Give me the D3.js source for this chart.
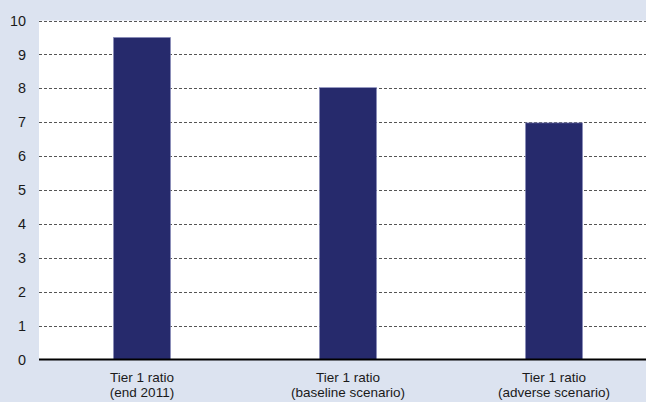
<!DOCTYPE html>
<html><head><meta charset="utf-8">
<script src="https://cdn.jsdelivr.net/npm/d3@7"></script>
<style>body{margin:0;background:#dce3f0;}svg{display:block;}</style>
</head><body>
<svg id="c" width="646" height="402"></svg>
<script>
const categories = ["Tier 1 ratio\n(end 2011)", "Tier 1 ratio\n(baseline scenario)", "Tier 1 ratio\n(adverse scenario)"];
const values = [9.5, 8.02, 6.98];
const yTicks = [0,1,2,3,4,5,6,7,8,9,10];

(function(){
const svg = d3.select("#c");
const W = 646, H = 402;
const mLeft = 39, mRight = 657, mTop = 20.5, mBottom = 359.5;
const FONT = "Liberation Sans, Arial, sans-serif";
svg.append("rect").attr("width", W).attr("height", H).attr("fill", "#dce3f0");
svg.append("rect").attr("x", mLeft).attr("y", mTop).attr("width", W - mLeft).attr("height", mBottom - mTop).attr("fill", "#ffffff");

const x = d3.scaleBand().domain(categories).range([mLeft, mRight]).paddingInner(0.723).paddingOuter(0.3615);
const y = d3.scaleLinear().domain([0, 10]).range([mBottom, mTop]);

svg.append("g").selectAll("line").data(yTicks.filter(d => d > 0)).join("line")
  .attr("x1", mLeft).attr("x2", W)
  .attr("y1", d => Math.round(y(d)) + 0.5).attr("y2", d => Math.round(y(d)) + 0.5)
  .attr("stroke", "#555").attr("stroke-width", 1).attr("stroke-dasharray", "3,2");

svg.append("g").selectAll("rect").data(values).join("rect")
  .attr("x", (d, i) => x(categories[i]))
  .attr("width", x.bandwidth())
  .attr("y", d => y(d))
  .attr("height", d => y(0) - y(d))
  .attr("fill", "#262a6c").attr("stroke", "#8c8fbf").attr("stroke-width", 0.6);

const yAxis = d3.axisLeft(y).tickValues(yTicks).tickSize(0).tickPadding(13);
const gy = svg.append("g").attr("transform", `translate(${mLeft},0)`).call(yAxis);
gy.select(".domain").remove();
gy.selectAll("text").attr("font-family", FONT).attr("font-size", 14.4).attr("fill", "#1a1a1a");

svg.append("line").attr("x1", mLeft).attr("x2", W).attr("y1", mBottom).attr("y2", mBottom)
  .attr("stroke", "#000").attr("stroke-width", 2);

const xl = svg.append("g");
categories.forEach((c, i) => {
  const t = xl.append("text").attr("text-anchor", "middle")
    .attr("font-family", FONT).attr("font-size", 13.5).attr("fill", "#1a1a1a");
  c.split("\n").forEach((line, j) => {
    t.append("tspan").attr("x", x(c) + x.bandwidth() / 2).attr("y", 382 + j * 15).text(line);
  });
});
})();
</script>
</body></html>
